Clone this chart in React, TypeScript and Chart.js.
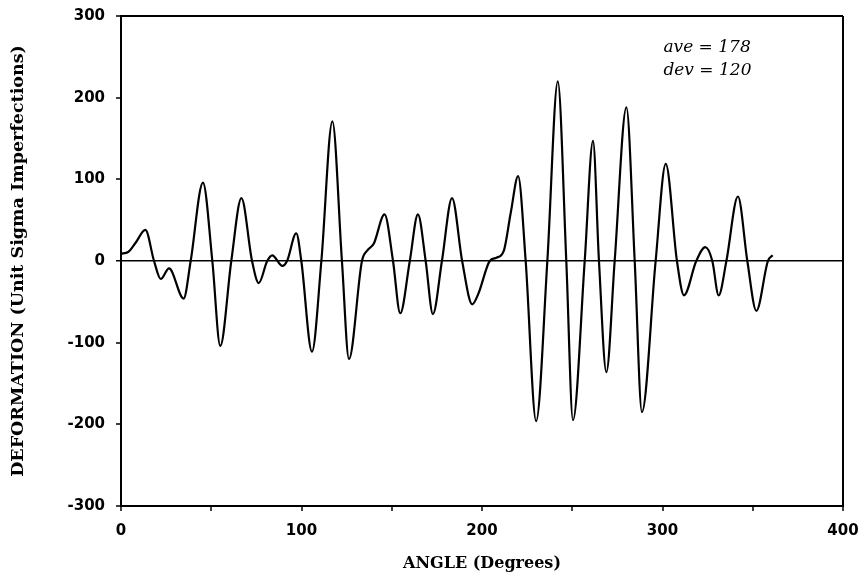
import React, { useEffect, useRef } from "react";
import { Chart, registerables } from "chart.js";

Chart.register(...registerables);

// Angle (degrees) of each read point
const angles = [
  0, 4, 8, 13.5, 18.3, 22, 26.6, 34.7, 38.6, 45.4, 50.6, 55, 61.1, 66.7, 72.6, 76.3, 81, 83.8,
  89.4, 92, 97.1, 99.9, 105.8, 111, 117.1, 122.4, 126.3, 133.5, 136.5, 140, 146, 150.7, 154.7,
  160, 164.5, 168.8, 172.8, 177.8, 183.4, 189, 194.6, 198, 204.3, 208, 212, 216, 220, 224.2,
  230, 236.2, 242, 246.7, 250.4, 256.9, 261.5, 264.8, 268.9, 273.5, 280, 284.6, 288.6, 296.2,
  301.8, 308, 311.9, 318.7, 323.7, 327.6, 331.1, 335.4, 341.8, 347, 352, 358.4, 361,
];

// Deformation (unit sigma imperfections)
const deformation = [
  9, 11, 22, 38, 0, -22, -9, -46, 0, 96, 0, -104, 0, 77, 0, -27, 0, 7,
  -6, 0, 34, 0, -111, 0, 171, 0, -120, 0, 13, 21, 57, 0, -64,
  0, 57, 0, -65, 0, 77, 0, -53, -40, 0, 4, 12, 60, 104, 0,
  -196, 0, 220, 0, -195, 0, 147, 0, -136, 0, 188, 0, -185, 0,
  119, 0, -42, 0, 17, 0, -42, 0, 79, 0, -61, 0, 7,
];

const xTicksMajor = [0, 100, 200, 300, 400];
const noteLines = ["ave = 178", "dev = 120"];

const notesPlugin = {
  id: "notes",
  afterDraw(chart: any) {
    const { ctx, scales } = chart;
    const x = scales.x;
    const y = scales.y;
    ctx.save();
    ctx.fillStyle = "#000";
    ctx.font = 'italic 17px "DejaVu Serif"';
    ctx.textBaseline = "middle";
    ctx.textAlign = "left";
    ctx.fillText(noteLines[0], x.getPixelForValue(300.5), y.getPixelForValue(261));
    ctx.fillText(noteLines[1], x.getPixelForValue(300.5), y.getPixelForValue(233));
    ctx.restore();
  },
};

function zeroPad(s: any) {
  s.paddingLeft = 0;
  s.paddingRight = 0;
  s.paddingTop = 0;
  s.paddingBottom = 0;
}

export default function App() {
  const ref = useRef<HTMLCanvasElement | null>(null);

  useEffect(() => {
    if (!ref.current) return;
    const points = angles.map((a, i) => ({ x: a, y: deformation[i] }));
    const tickFont = { family: '"DejaVu Sans"', size: 15, weight: "bold" as const };
    const xTitleFont = { family: '"DejaVu Serif"', size: 16, weight: "bold" as const };
    const yTitleFont = { family: '"DejaVu Serif"', size: 17.5, weight: "bold" as const };
    const chart = new Chart(ref.current, {
      type: "line",
      data: {
        datasets: [
          {
            data: points,
            borderColor: "#000",
            borderWidth: 2.2,
            pointRadius: 0,
            fill: false,
            cubicInterpolationMode: "monotone",
          },
        ],
      },
      options: {
        animation: false,
        responsive: true,
        maintainAspectRatio: false,
        layout: { padding: { top: 16, right: 20, bottom: 0, left: 0 } },
        plugins: { legend: { display: false }, tooltip: { enabled: false } },
        scales: {
          x: {
            type: "linear",
            min: 0,
            max: 400,
            afterFit: (s: any) => {
              s.height = 74;
              zeroPad(s);
            },
            ticks: {
              stepSize: 50,
              color: "#000",
              font: tickFont,
              padding: 11,
              maxRotation: 0,
              autoSkip: false,
              callback: (v: any) => (xTicksMajor.includes(Number(v)) ? String(v) : ""),
            },
            grid: {
              drawOnChartArea: true,
              drawTicks: true,
              tickLength: 5,
              tickColor: "#000",
              tickWidth: 1.5,
              lineWidth: 2,
              color: (c: any) => (c.tick && c.tick.value === 400 ? "#000" : "rgba(0,0,0,0)"),
            },
            border: { display: true, color: "#000", width: 2 },
            title: {
              display: true,
              text: "ANGLE (Degrees)",
              color: "#000",
              font: xTitleFont,
              padding: { top: 4, bottom: 7 },
            },
          },
          y: {
            type: "linear",
            min: -300,
            max: 300,
            afterFit: (s: any) => {
              s.width = 121;
              zeroPad(s);
            },
            ticks: {
              stepSize: 100,
              color: "#000",
              font: tickFont,
              padding: 11,
            },
            grid: {
              drawOnChartArea: true,
              drawTicks: true,
              tickLength: 5,
              tickColor: "#000",
              tickWidth: 1.5,
              lineWidth: (c: any) => (c.tick && c.tick.value === 0 ? 1.5 : 2),
              color: (c: any) =>
                c.tick && (c.tick.value === 0 || c.tick.value === 300) ? "#000" : "rgba(0,0,0,0)",
            },
            border: { display: true, color: "#000", width: 2 },
            title: {
              display: true,
              text: "DEFORMATION (Unit Sigma Imperfections)",
              color: "#000",
              font: yTitleFont,
              padding: { top: 8, bottom: 4 },
            },
          },
        },
      },
      plugins: [notesPlugin],
    } as any);
    return () => chart.destroy();
  }, []);

  return (
    <div style={{ position: "fixed", left: 0, top: 0, width: 863, height: 580, background: "#fff" }}>
      <canvas ref={ref} />
    </div>
  );
}
